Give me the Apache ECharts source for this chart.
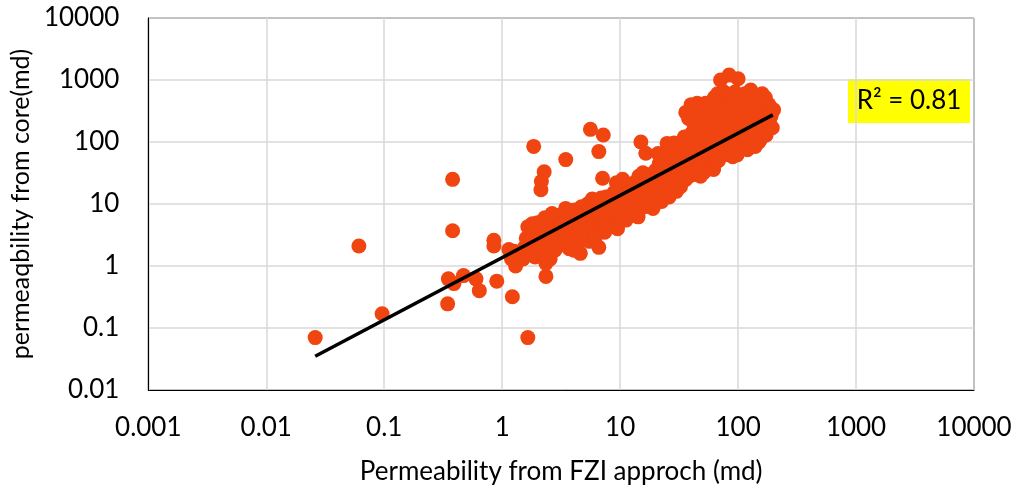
<!DOCTYPE html>
<html><head><meta charset="utf-8">
<script src="https://cdn.jsdelivr.net/npm/echarts@6/dist/echarts.min.js"></script>
<style>html,body{margin:0;padding:0;background:#fff}#c{width:1019px;height:490px}</style>
</head><body><div id="c"></div>
<script>
// Permeability from FZI approach (md) -- x values
const fziPerm = [
  0.026,0.061,0.096,0.345,0.35,0.39,0.47,0.6,0.64,0.38,0.38,0.85,0.85,0.9,1.22,1.65,2.35,1.3,1.26,1.14,1.2,
  1.85,2.13,2.15,2.27,3.46,5.6,7.2,6.6,7.1,4.6,6.6,15,16.5,21,25,26,28.6,
  1.5,1.55,1.6,1.65,1.7,1.75,1.8,1.85,1.9,1.95,2.0,1.72,1.6,
  2.05,2.1,2.15,2.2,2.25,2.3,2.4,2.45,2.5,2.55,2.6,2.7,2.75,2.8,2.9,3.0,3.05,3.1,3.15,2.35,2.65,
  3.3,3.4,3.5,3.6,3.7,3.8,3.9,4.0,4.1,4.2,4.3,4.4,4.5,4.6,4.7,4.8,4.9,5.0,3.45,4.05,
  5.1,5.2,5.3,5.4,5.5,5.6,5.7,5.8,5.9,6.0,6.1,6.2,6.3,6.4,6.5,6.7,6.8,6.9,7.0,7.2,7.4,7.5,7.6,7.8,8.0,5.25,6.15,7.3,
  8.2,8.4,8.6,8.8,9.0,9.2,9.4,9.6,9.8,10,10.3,10.6,10.9,11.2,11.5,11.8,12.1,12.4,8.5,10.1,11,9.5,9.3,10.5,
  12.8,13.2,13.6,14,14.4,14.8,15.2,15.6,16,16.5,17,17.5,18,18.5,19,19.5,20,13,16.8,18.8,14.2,
  20.5,21,21.5,22,22.5,23,23.5,24,24.5,25,25.5,26,26.5,27,27.5,28,28.5,29,29.5,30,30.5,31,31.5,32,22,
  32.5,33,33.5,34,35,35.5,36,36.5,37,38,38.5,39,40,40.5,41,41.5,42,43,43.5,44,44.5,45,46,46.5,47,47.5,48,48.5,49,50,38,42,36,40,44,
  51,52,53,54,55,56,57,58,59,60,61,62,62.5,63,64,65,66,67,68,69,70,71,72,73,74,75,76,77,78,79,80,55,58,66,75,64,
  81,82,84,84,85,86,88,89,90,92,94,95,96,98,100,100,102,104,106,108,110,112,114,116,118,120,122,124,126,92,105,115,90,98,
  128,130,132,135,138,140,142,145,148,150,152,155,158,160,163,166,170,173,176,180,182,185,188,190,195,200,140,170,150
];
// Permeability from core (md) -- y values
const corePerm = [
  0.07,2.1,0.17,0.245,0.62,0.52,0.7,0.62,0.4,3.7,25,2.6,2.1,0.57,0.32,0.07,0.68,1.0,1.73,1.84,1.3,
  85,17,23,33,52,160,130,70,26,1.6,2.0,100,66,65,95,90,96,
  1.3,2.0,2.8,4.3,1.6,3.2,4.8,2.3,1.4,3.6,5.0,2.4,1.8,
  1.9,3.0,4.2,2.5,1.5,6.0,3.5,2.0,4.6,1.3,2.8,5.5,3.8,1.8,2.4,6.5,4.0,2.2,3.0,1.1,7.0,
  5.0,2.6,3.6,7.2,1.9,4.4,5.8,3.0,8.0,2.3,5.0,6.6,3.5,4.0,9.0,2.6,6.0,4.8,8.5,1.8,
  7.2,3.2,10,5.6,2.5,8.5,6.3,12,4.2,7.5,3.4,9.5,5.5,11,6.8,4.0,8.0,12.5,5.2,9.8,3.5,7.0,13,6.0,10,4.6,2.9,4.8,
  5.0,12,7.5,15,9.0,4.5,11.5,17,6.5,13,8.5,19,10,5.5,14,21,8.0,16,9.8,6.0,12,4.0,22,25,
  10,22,7.0,15,28,11,18,32,9.0,14,24,12,30,17,8.5,22,35,13,20,26,6.2,
  14,27,45,19,11,33,55,22,16,40,28,13,48,35,20,62,30,24,44,16,52,36,27,70,40,
  19,45,85,32,120,58,25,75,40,100,28,62,48,140,330,35,85,260,55,30,110,420,70,40,370,180,28,90,300,60,240,200,300,400,160,
  32,150,420,75,45,230,110,430,60,320,40,36,180,520,90,250,130,600,50,380,160,1000,70,280,450,110,200,62,350,140,520,320,95,300,650,180,
  66,240,1200,400,110,170,560,85,300,140,640,95,220,380,1050,120,500,180,90,280,420,150,600,110,250,75,340,190,500,450,300,200,58,62,
  690,120,260,400,150,85,520,210,330,100,180,110,280,600,150,380,230,130,423,300,400,200,178,260,170,330,310,520,460
];
// Power trendline end points
const trendX = [0.026, 197];
const trendY = [0.035, 274];
const rSquaredLabel = 'R² = 0.81';
const xTicks = [0.001, 10000];
const yTicks = [0.01, 10000];

const scatterData = fziPerm.map((x, i) => [x, corePerm[i]]);
const trendData = trendX.map((x, i) => [x, trendY[i]]);

const FONT = 'Lato';
function fmt(v) {
  if (v >= 1) return String(Math.round(v));
  return String(parseFloat(v.toPrecision(1)));
}
const chart = echarts.init(document.getElementById('c'), null, {renderer: 'canvas'});
chart.setOption({
  animation: false,
  grid: {left: 147, right: 45, top: 18, bottom: 99, show: true, borderColor: '#000', borderWidth: 1},
  xAxis: {
    type: 'log', logBase: 10, min: xTicks[0], max: xTicks[1],
    name: 'Permeability from FZI approch (md)', nameLocation: 'middle', nameGap: 69,
    nameTextStyle: {fontFamily: FONT, fontSize: 26, color: '#000'},
    axisLine: {lineStyle: {color: '#000', width: 1}},
    axisTick: {show: false},
    axisLabel: {formatter: fmt, fontFamily: FONT, fontSize: 26, color: '#000', margin: 25},
    splitLine: {show: true, lineStyle: {color: '#d9d9d9', width: 1.5}}
  },
  yAxis: {
    type: 'log', logBase: 10, min: yTicks[0], max: yTicks[1],
    name: 'permeaqbility from core(md)', nameLocation: 'middle', nameGap: 112,
    nameTextStyle: {fontFamily: FONT, fontSize: 25, color: '#000'},
    axisLine: {show: true, lineStyle: {color: '#000', width: 1}},
    axisTick: {show: false},
    axisLabel: {formatter: fmt, fontFamily: FONT, fontSize: 26, color: '#000', margin: 29},
    splitLine: {show: true, lineStyle: {color: '#d9d9d9', width: 1.5}}
  },
  series: [
    {type: 'scatter', data: scatterData, symbolSize: 15, itemStyle: {color: '#F04411', opacity: 1}, z: 2},
    {type: 'line', data: trendData, symbol: 'none', lineStyle: {color: '#000', width: 3.5}, z: 3}
  ],
  graphic: [{
    type: 'group', left: 848, top: 79,
    children: [
      {type: 'rect', shape: {x: 0, y: 0, width: 122, height: 44}, style: {fill: '#FFFF00'}},
      {type: 'text', x: 61, y: 22, style: {text: rSquaredLabel, font: '26px Lato', fill: '#000', align: 'center', verticalAlign: 'middle'}}
    ]
  }]
});
</script></body></html>
